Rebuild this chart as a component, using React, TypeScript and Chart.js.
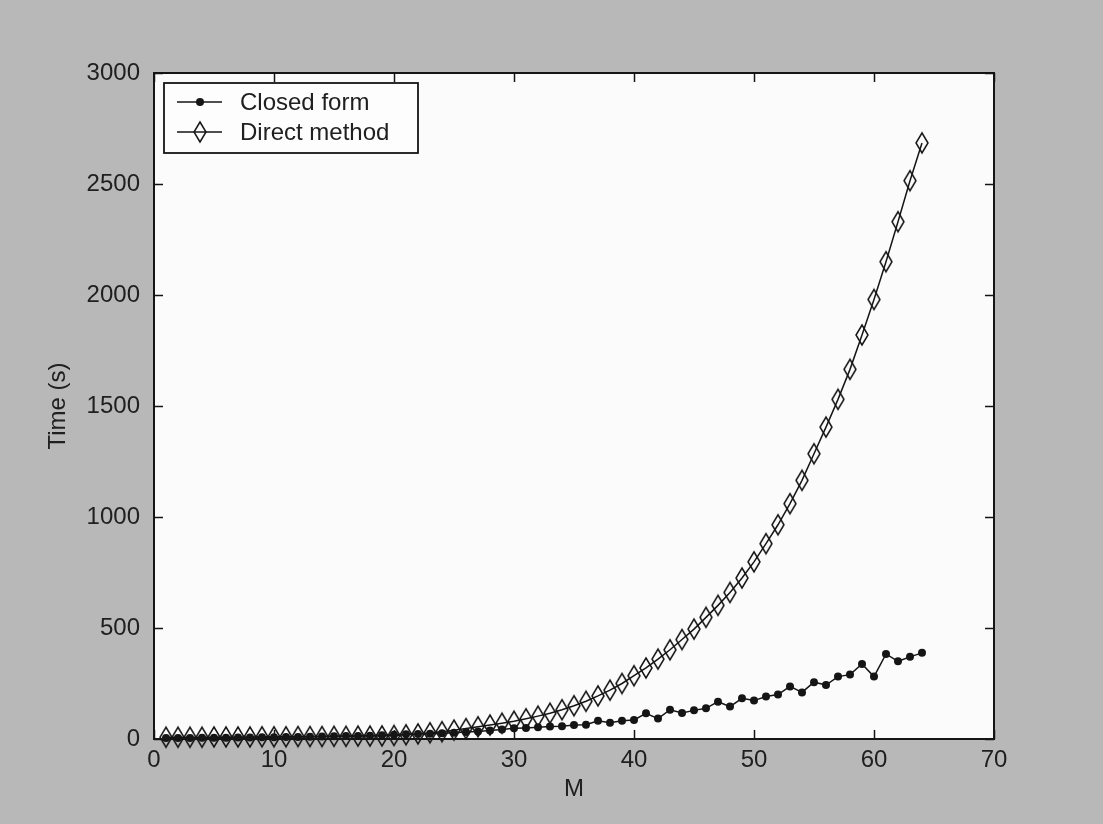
import React, { useEffect, useRef } from "react";
import { Chart, registerables } from "chart.js";

Chart.register(...registerables);

const mValues = [
  1, 2, 3, 4, 5, 6, 7, 8, 9, 10, 11, 12, 13, 14, 15, 16, 17, 18, 19, 20,
  21, 22, 23, 24, 25, 26, 27, 28, 29, 30, 31, 32, 33, 34, 35, 36, 37, 38, 39, 40,
  41, 42, 43, 44, 45, 46, 47, 48, 49, 50, 51, 52, 53, 54, 55, 56, 57, 58, 59, 60,
  61, 62, 63, 64,
];

const closedFormTime = [
  5, 5, 5, 6, 6, 6, 7, 7, 8, 8, 9, 9, 10, 11, 12, 13, 14, 15, 17, 19,
  21, 22, 24, 26, 28, 31, 34, 38, 43, 48, 50, 53, 56, 57, 63, 64, 82, 73, 82, 86,
  116, 92, 132, 117, 129, 138, 168, 146, 183, 173, 191, 200, 237, 210, 256, 243, 281, 290, 338, 281,
  383, 350, 370, 388,
];

const directMethodTime = [
  8, 8, 8, 8, 9, 9, 9, 9, 10, 10, 10, 11, 11, 11, 12, 12, 13, 13, 14, 16,
  19, 23, 28, 33, 40, 47, 55, 63, 71, 80, 91, 103, 116, 132, 150, 170, 194, 220, 250, 285,
  320, 360, 402, 448, 495, 548, 602, 660, 725, 798, 880, 965, 1060, 1165, 1285, 1405, 1530, 1665, 1820, 1980,
  2150, 2330, 2515, 2685,
];

const xTicks = [0, 10, 20, 30, 40, 50, 60, 70];
const yTicks = [0, 500, 1000, 1500, 2000, 2500, 3000];
const seriesNames = ["Closed form", "Direct method"];
const xTitle = "M";
const yTitle = "Time (s)";

const FONT = '"Liberation Sans", Arial, Helvetica, sans-serif';
const INK = "#151515";
const TEXT = "#202020";

function makeDiamond(): HTMLCanvasElement {
  const c = document.createElement("canvas");
  c.width = 16;
  c.height = 24;
  const g = c.getContext("2d")!;
  g.strokeStyle = INK;
  g.lineWidth = 1.5;
  g.beginPath();
  g.moveTo(8, 2);
  g.lineTo(14, 12);
  g.lineTo(8, 22);
  g.lineTo(2, 12);
  g.closePath();
  g.stroke();
  return c;
}

export default function App() {
  const ref = useRef<HTMLCanvasElement>(null);

  useEffect(() => {
    const canvas = ref.current!;
    const diamond = makeDiamond();

    const framePlugin = {
      id: "matlabFrame",
      beforeDraw(chart: any) {
        const { ctx, chartArea: a, width, height } = chart;
        ctx.save();
        ctx.fillStyle = "#b8b8b8";
        ctx.fillRect(0, 0, width, height);
        ctx.fillStyle = "#fbfbfb";
        ctx.fillRect(a.left, a.top, a.right - a.left, a.bottom - a.top);
        ctx.restore();
      },
      afterDraw(chart: any) {
        const { ctx, chartArea: a } = chart;
        const xs = chart.scales.x;
        const ys = chart.scales.y;
        ctx.save();
        ctx.strokeStyle = INK;
        ctx.lineWidth = 2;
        ctx.strokeRect(a.left, a.top, a.right - a.left, a.bottom - a.top);
        ctx.lineWidth = 1.5;
        const tl = 9;
        ctx.beginPath();
        xTicks.forEach((v) => {
          const px = Math.round(xs.getPixelForValue(v)) + 0.5;
          ctx.moveTo(px, a.bottom);
          ctx.lineTo(px, a.bottom - tl);
          ctx.moveTo(px, a.top);
          ctx.lineTo(px, a.top + tl);
        });
        yTicks.forEach((v) => {
          const py = Math.round(ys.getPixelForValue(v)) + 0.5;
          ctx.moveTo(a.left, py);
          ctx.lineTo(a.left + tl, py);
          ctx.moveTo(a.right, py);
          ctx.lineTo(a.right - tl, py);
        });
        ctx.stroke();

        // legend
        const bx = a.left + 10;
        const by = a.top + 10;
        const bw = 254;
        const bh = 70;
        ctx.fillStyle = "#fdfdfd";
        ctx.fillRect(bx, by, bw, bh);
        ctx.lineWidth = 1.8;
        ctx.strokeRect(bx, by, bw, bh);
        const rows = [by + 19, by + 49];
        ctx.lineWidth = 1.5;
        rows.forEach((ry, i) => {
          ctx.beginPath();
          ctx.moveTo(bx + 13, ry);
          ctx.lineTo(bx + 58, ry);
          ctx.stroke();
          const cx = bx + 36;
          if (i === 0) {
            ctx.fillStyle = INK;
            ctx.beginPath();
            ctx.arc(cx, ry, 4, 0, Math.PI * 2);
            ctx.fill();
          } else {
            ctx.drawImage(diamond, cx - 8, ry - 12);
          }
          ctx.fillStyle = TEXT;
          ctx.font = `24px ${FONT}`;
          ctx.textBaseline = "middle";
          ctx.textAlign = "left";
          ctx.fillText(seriesNames[i], bx + 76, ry + 1);
        });
        ctx.restore();
      },
    };

    const chart = new Chart(canvas, {
      type: "line",
      data: {
        datasets: [
          {
            label: seriesNames[0],
            data: mValues.map((m, i) => ({ x: m, y: closedFormTime[i] })),
            borderColor: INK,
            borderWidth: 1.5,
            pointStyle: "circle",
            pointRadius: 4,
            pointBackgroundColor: INK,
            pointBorderWidth: 0,
            tension: 0,
            clip: false as any,
          },
          {
            label: seriesNames[1],
            data: mValues.map((m, i) => ({ x: m, y: directMethodTime[i] })),
            borderColor: INK,
            borderWidth: 1.5,
            pointStyle: diamond as any,
            pointRadius: 8,
            tension: 0,
            clip: false as any,
          },
        ],
      },
      options: {
        animation: false,
        responsive: false,
        layout: { padding: { top: 73, right: 109, left: 0, bottom: 0 } },
        plugins: {
          legend: { display: false },
          tooltip: { enabled: false },
        },
        scales: {
          x: {
            type: "linear",
            min: 0,
            max: 70,
            afterBuildTicks: (s: any) => {
              s.ticks = xTicks.map((v) => ({ value: v }));
            },
            afterFit: (s: any) => {
              s.height = 85;
            },
            grid: { display: false, drawTicks: false },
            border: { display: false },
            ticks: {
              padding: 7,
              color: TEXT,
              font: { family: FONT, size: 24 },
              maxRotation: 0,
              callback: (v: any) => String(v),
            },
            title: {
              display: true,
              text: xTitle,
              color: TEXT,
              font: { family: FONT, size: 24 },
              padding: { top: 0, bottom: 20 },
            },
          },
          y: {
            type: "linear",
            min: 0,
            max: 3000,
            afterBuildTicks: (s: any) => {
              s.ticks = yTicks.map((v) => ({ value: v }));
            },
            afterFit: (s: any) => {
              s.width = 154;
            },
            grid: { display: false, drawTicks: false },
            border: { display: false },
            ticks: {
              padding: 14,
              color: TEXT,
              font: { family: FONT, size: 24 },
              callback: (v: any) => String(v),
            },
            title: {
              display: true,
              text: yTitle,
              color: TEXT,
              font: { family: FONT, size: 24 },
              padding: { top: 44, bottom: 0 },
            },
          },
        },
      },
      plugins: [framePlugin],
    });

    return () => chart.destroy();
  }, []);

  return (
    <div style={{ position: "fixed", left: 0, top: 0, width: 1103, height: 824 }}>
      <canvas ref={ref} width={1103} height={824} />
    </div>
  );
}
